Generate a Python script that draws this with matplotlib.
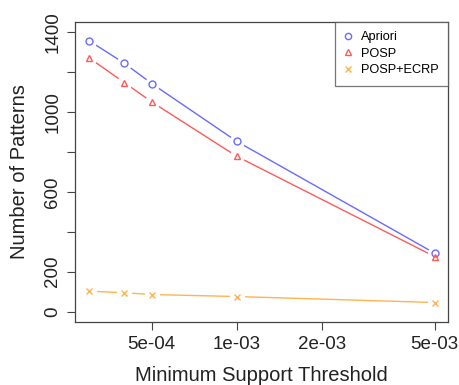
import matplotlib
matplotlib.use("Agg")
import matplotlib.pyplot as plt
from matplotlib.ticker import FixedLocator, NullLocator

plt.rcParams['font.family'] = ['Liberation Sans', 'DejaVu Sans']

support = [3e-4, 4e-4, 5e-4, 1e-3, 5e-3]
apriori = [1357, 1244, 1142, 852, 292]
posp = [1271, 1147, 1050, 777, 275]
posp_ecrp = [102, 94, 85, 75, 45]

xticks = [5e-4, 1e-3, 2e-3, 5e-3]
xticklabels = ["5e-04", "1e-03", "2e-03", "5e-03"]
yticks = [0, 200, 400, 600, 800, 1000, 1200, 1400]
yticklabels = ["0", "200", "", "600", "", "1000", "", "1400"]

fig = plt.figure(figsize=(4.6, 3.85), dpi=100)
ax = fig.add_axes([0.1637, 0.1629, 0.8109, 0.7807])

series = [
    (apriori, "Apriori", "#6a6aff", "o"),
    (posp, "POSP", "#ff5a5a", "^"),
    (posp_ecrp, "POSP+ECRP", "#ffb450", "x"),
]
for ys, lab, col, mk in series:
    ax.plot(support, ys, color=col, lw=1.0, zorder=2)
    ax.plot(support, ys, linestyle='none', marker='o', ms=10,
            markerfacecolor='white', markeredgecolor='white', zorder=3)
for ys, lab, col, mk in series:
    ax.plot(support, ys, linestyle='none', marker=mk, ms=5,
            markerfacecolor='none', markeredgecolor=col, mew=1.0,
            color=col, label=lab, zorder=4)

ax.set_xscale('log')
ax.set_xlim(2.684e-4, 5.585e-3)
ax.set_ylim(-54, 1452)
ax.xaxis.set_major_locator(FixedLocator(xticks))
ax.xaxis.set_minor_locator(NullLocator())
ax.set_xticklabels(xticklabels)
ax.set_yticks(yticks)
ax.set_yticklabels(yticklabels, rotation=90, va='center')
ax.tick_params(axis='both', direction='out', length=6, width=0.8,
               color='#444444', labelsize=13.5, labelcolor='#222222')
ax.tick_params(axis='x', pad=4)
ax.tick_params(axis='y', pad=4)
for s in ax.spines.values():
    s.set_color('#444444')
    s.set_linewidth(0.9)

ax.set_xlabel("Minimum Support Threshold", fontsize=14.5, color='#222222', labelpad=9)
ax.set_ylabel("Number of Patterns", fontsize=14.5, color='#222222', labelpad=11)

leg = ax.legend(loc='upper right', fontsize=9.2, frameon=True, fancybox=False,
                borderaxespad=0, handlelength=0.6, handletextpad=0.7,
                labelspacing=0.35, borderpad=0.75, markerscale=0.9)
leg.get_frame().set_edgecolor('#555555')
leg.get_frame().set_linewidth(0.9)

fig.savefig("out.png", dpi=100)
